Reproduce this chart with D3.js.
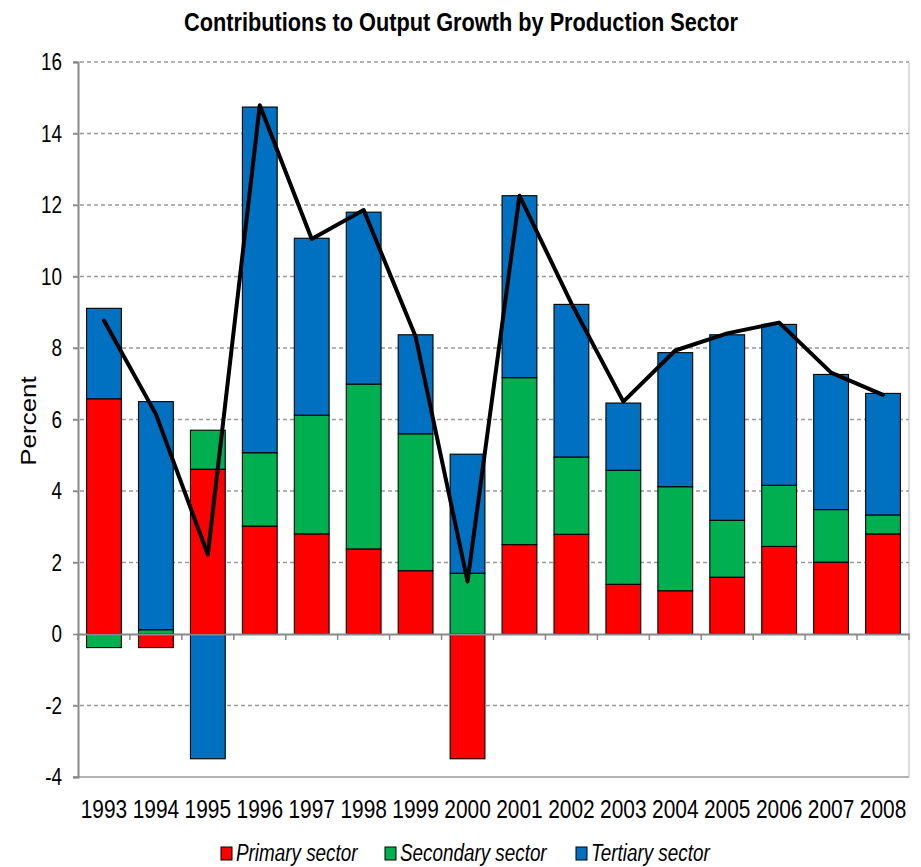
<!DOCTYPE html>
<html><head><meta charset="utf-8">
<script src="https://cdn.jsdelivr.net/npm/d3@7"></script>
<style>
body{margin:0;background:#fff;}
text{font-family:"Liberation Sans",Arial,sans-serif;fill:#000;}
</style></head>
<body><svg id="c" width="921" height="867"></svg>
<script>
const years = ["1993","1994","1995","1996","1997","1998","1999","2000","2001","2002","2003","2004","2005","2006","2007","2008"];
const primary   = [6.58,-0.38,4.61,3.02,2.80,2.38,1.77,-3.49,2.50,2.79,1.39,1.21,1.59,2.45,2.01,2.80];
const secondary = [-0.38,0.12,1.09,2.05,3.32,4.61,3.83,1.70,4.67,2.16,3.19,2.91,1.59,1.71,1.47,0.53];
const tertiary  = [2.53,6.38,-3.49,9.67,4.95,4.81,2.77,3.33,5.09,4.27,1.88,3.75,5.19,4.50,3.78,3.40];
const total     = [8.77,6.15,2.22,14.79,11.05,11.86,8.32,1.47,12.26,9.25,6.50,7.93,8.41,8.71,7.31,6.69];
const yTicks = [-4,-2,0,2,4,6,8,10,12,14,16];
const seriesNames = ["Primary sector","Secondary sector","Tertiary sector"];
const colors = ["#FF0000","#00B050","#0070C0"];

const SX = 0.82; // horizontal squeeze to mimic narrow face
const svg = d3.select("#c");
function ntext(parent, x, y, str, size, anchor, extra){
  const t = parent.append("text")
    .attr("transform", `translate(${x},${y}) scale(${SX},1)` + (extra||""))
    .attr("text-anchor", anchor).attr("font-size", size).text(str);
  return t;
}

const L=78, R=909, T=62, B=777;
const x = d3.scaleBand().domain(years).range([L,R]).paddingInner(0.33).paddingOuter(0.165);
const y = d3.scaleLinear().domain([-4,16]).range([B,T]);

// gridlines
svg.append("g").selectAll("line").data(yTicks.filter(d=>d!==0 && d!==-4)).join("line")
  .attr("x1",L-5).attr("x2",R).attr("y1",d=>y(d)).attr("y2",d=>y(d))
  .attr("stroke","#999").attr("stroke-width",1.3).attr("stroke-dasharray","4,3");
svg.append("line").attr("x1",L-5).attr("x2",R).attr("y1",B).attr("y2",B).attr("stroke","#999").attr("stroke-width",1.5);
svg.append("line").attr("x1",R).attr("x2",R).attr("y1",T).attr("y2",B).attr("stroke","#bbb").attr("stroke-width",1);

// stacked data
const series = [primary, secondary, tertiary];
const rows = years.map((yr,i)=>{
  let pos=0, neg=0;
  return series.map((s,k)=>{
    const v=s[i]; let y0,y1;
    if(v>=0){y0=pos; y1=pos+v; pos=y1;} else {y0=neg; y1=neg+v; neg=y1;}
    return {yr,k,y0,y1};
  });
}).flat();

svg.append("g").selectAll("rect").data(rows).join("rect")
  .attr("x",d=>x(d.yr)).attr("width",x.bandwidth())
  .attr("y",d=>y(Math.max(d.y0,d.y1))).attr("height",d=>Math.abs(y(d.y0)-y(d.y1)))
  .attr("fill",d=>colors[d.k]).attr("stroke","#000").attr("stroke-width",1.1);

// y axis
const yAxis = d3.axisLeft(y).tickValues(yTicks).tickSize(5).tickFormat("");
const ga = svg.append("g").attr("transform",`translate(${L},0)`).call(yAxis);
ga.select(".domain").attr("stroke","#888").attr("stroke-width",2);
ga.selectAll(".tick line").attr("stroke","#888").attr("stroke-width",1.5);
const yl = svg.append("g");
yTicks.forEach(v=>ntext(yl, 62, y(v)+8, String(v), 23, "end"));

// x axis at zero
const step = x.step();
const gx = svg.append("g").attr("transform",`translate(0,${y(0)})`).call(d3.axisBottom(x).tickSize(0).tickFormat(""));
gx.select(".domain").attr("stroke","#888").attr("stroke-width",2);
svg.append("g").selectAll("line").data(d3.range(years.length+1)).join("line")
  .attr("x1",i=>L+i*step).attr("x2",i=>L+i*step).attr("y1",y(0)).attr("y2",y(0)+6)
  .attr("stroke","#888").attr("stroke-width",1.5);

// x labels
const xl = svg.append("g");
years.forEach(d=>ntext(xl, x(d)+x.bandwidth()/2, 818, d, 25.5, "middle"));

// total line
const line = d3.line().x((d,i)=>x(years[i])+x.bandwidth()/2).y(d=>y(d));
svg.append("path").datum(total).attr("d",line).attr("fill","none").attr("stroke","#000")
  .attr("stroke-width",4).attr("stroke-linejoin","round").attr("stroke-linecap","round");

// title
ntext(svg, 461, 31, "Contributions to Output Growth by Production Sector", 26.5, "middle").attr("font-weight","bold");

// y label
ntext(svg, 36, 421, "Percent", 26, "middle", " rotate(-90)");

// legend
const legX = [221,385,576];
const lg = svg.append("g").selectAll("g").data(seriesNames).join("g")
  .attr("transform",(d,i)=>`translate(${legX[i]},847)`);
lg.append("rect").attr("width",11).attr("height",13).attr("fill",(d,i)=>colors[i]).attr("stroke","#000").attr("stroke-width",1);
lg.each(function(d){ ntext(d3.select(this), 15, 14, d, 23, "start").attr("font-style","italic"); });
</script></body></html>
